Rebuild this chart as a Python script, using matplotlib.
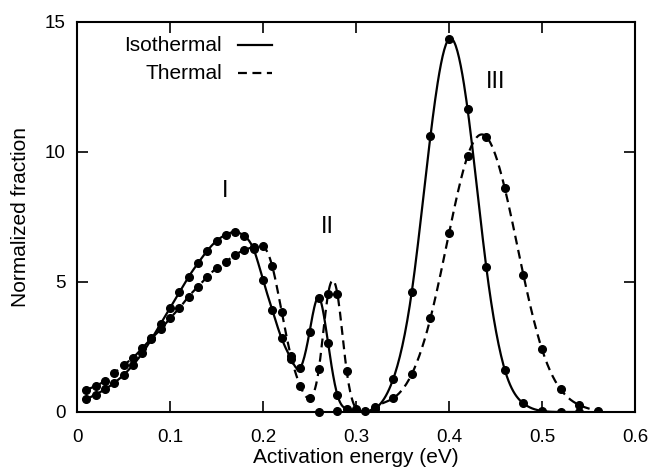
import numpy as np
import matplotlib
matplotlib.use('Agg')
import matplotlib.pyplot as plt

plt.rcParams['font.family'] = ['Liberation Sans', 'DejaVu Sans']

# isothermal curve (solid)
iso_x = [0.01, 0.02, 0.03, 0.04, 0.05, 0.06, 0.07, 0.08, 0.09, 0.10,
         0.11, 0.12, 0.13, 0.14, 0.15, 0.16, 0.17, 0.18, 0.19, 0.20,
         0.21, 0.22, 0.23, 0.24, 0.25, 0.26, 0.27, 0.28, 0.29, 0.30,
         0.32, 0.34, 0.36, 0.38, 0.40, 0.42, 0.44, 0.46, 0.48, 0.50,
         0.52, 0.54]
iso_y = [0.49, 0.67, 0.87, 1.12, 1.42, 1.80, 2.25, 2.80, 3.40, 4.00,
         4.60, 5.20, 5.72, 6.20, 6.58, 6.82, 6.92, 6.77, 6.25, 5.08,
         3.92, 2.83, 2.05, 1.70, 3.07, 4.40, 2.64, 0.65, 0.12, 0.05,
         0.12, 1.27, 4.63, 10.60, 14.35, 11.64, 5.59, 1.62, 0.33, 0.04,
         0.00, 0.00]

# thermal curve (dashed)
th_x = [0.01, 0.02, 0.03, 0.04, 0.05, 0.06, 0.07, 0.08, 0.09, 0.10,
        0.11, 0.12, 0.13, 0.14, 0.15, 0.16, 0.17, 0.18, 0.19, 0.20,
        0.21, 0.22, 0.23, 0.24, 0.25, 0.26, 0.27, 0.28, 0.29, 0.30,
        0.32, 0.34, 0.36, 0.38, 0.40, 0.42, 0.44, 0.46, 0.48, 0.50,
        0.52, 0.54, 0.56]
th_y = [0.85, 1.00, 1.20, 1.50, 1.80, 2.08, 2.45, 2.83, 3.18, 3.60,
        3.99, 4.44, 4.82, 5.20, 5.53, 5.78, 6.04, 6.23, 6.36, 6.38,
        5.60, 3.86, 2.15, 1.00, 0.53, 1.64, 4.54, 4.54, 1.57, 0.12,
        0.18, 0.53, 1.46, 3.60, 6.87, 9.85, 10.59, 8.60, 5.27, 2.41,
        0.87, 0.27, 0.04]

# extra component points sitting on the baseline
comp_x = [0.26, 0.28, 0.31]
comp_y = [0.00, 0.05, 0.05]

peak_labels = ['I', 'II', 'III']
peak_pos = [(0.159, 8.5), (0.269, 7.1), (0.4505, 12.7)]

legend_labels = ['Isothermal', 'Thermal']


def spline(x, y, n=600):
    # natural cubic spline, just for drawing a smooth line through the points
    x = np.asarray(x, float)
    y = np.asarray(y, float)
    h = np.diff(x)
    k = len(x)
    A = np.zeros((k, k))
    b = np.zeros(k)
    A[0, 0] = A[-1, -1] = 1
    for i in range(1, k - 1):
        A[i, i - 1] = h[i - 1]
        A[i, i] = 2 * (h[i - 1] + h[i])
        A[i, i + 1] = h[i]
        b[i] = 6 * ((y[i + 1] - y[i]) / h[i] - (y[i] - y[i - 1]) / h[i - 1])
    M = np.linalg.solve(A, b)
    xx = np.linspace(x[0], x[-1], n)
    j = np.clip(np.searchsorted(x, xx) - 1, 0, k - 2)
    t0 = x[j + 1] - xx
    t1 = xx - x[j]
    hj = h[j]
    yy = (M[j] * t0**3 + M[j + 1] * t1**3) / (6 * hj) \
        + (y[j] / hj - M[j] * hj / 6) * t0 + (y[j + 1] / hj - M[j + 1] * hj / 6) * t1
    return xx, yy


fig = plt.figure(figsize=(6.56, 4.73), dpi=100)
ax = fig.add_axes([0.1174, 0.129, 0.8506, 0.8245])

dash = (4, 2.5)

sx, sy = spline(iso_x, iso_y)
ax.plot(sx, sy, color='black', lw=1.6)
ax.plot(iso_x, iso_y, 'o', color='black', ms=5.5)

tx, ty = spline(th_x, th_y)
ax.plot(tx, ty, color='black', lw=1.6, dashes=dash)
ax.plot(th_x, th_y, 'o', color='black', ms=5.5)

ax.plot(comp_x, comp_y, 'o', color='black', ms=5.5, clip_on=False)

for lab, (px, py) in zip(peak_labels, peak_pos):
    ax.text(px, py, lab, fontsize=17, ha='center', va='center')

# gnuplot-style key: text on the left, line sample on the right
key_y = [0.941, 0.869]
for lab, ky, ls in zip(legend_labels, key_y, ['-', '--']):
    ax.text(0.26, ky, lab, transform=ax.transAxes, fontsize=15,
            ha='right', va='center')
    ln, = ax.plot([0.2885, 0.3495], [ky, ky], transform=ax.transAxes,
                  color='black', lw=1.6)
    if ls == '--':
        ln.set_dashes(dash)

ax.set_xlim(0, 0.6)
ax.set_ylim(0, 15)
ax.set_xticks([0, 0.1, 0.2, 0.3, 0.4, 0.5, 0.6])
ax.set_xticklabels(['0', '0.1', '0.2', '0.3', '0.4', '0.5', '0.6'])
ax.set_yticks([0, 5, 10, 15])
ax.set_yticklabels(['0', '5', '10', '15'])
ax.tick_params(direction='in', length=8, width=1.2, top=True, right=True,
               labelsize=13.5)
ax.tick_params(axis='x', pad=12)
ax.tick_params(axis='y', pad=8)
for s in ax.spines.values():
    s.set_linewidth(1.5)

ax.set_xlabel('Activation energy (eV)', fontsize=15)
ax.set_ylabel('Normalized fraction', fontsize=15)
ax.xaxis.set_label_coords(0.5, -0.092)
ax.yaxis.set_label_coords(-0.084, 0.5)

fig.savefig('out.png', dpi=100)
